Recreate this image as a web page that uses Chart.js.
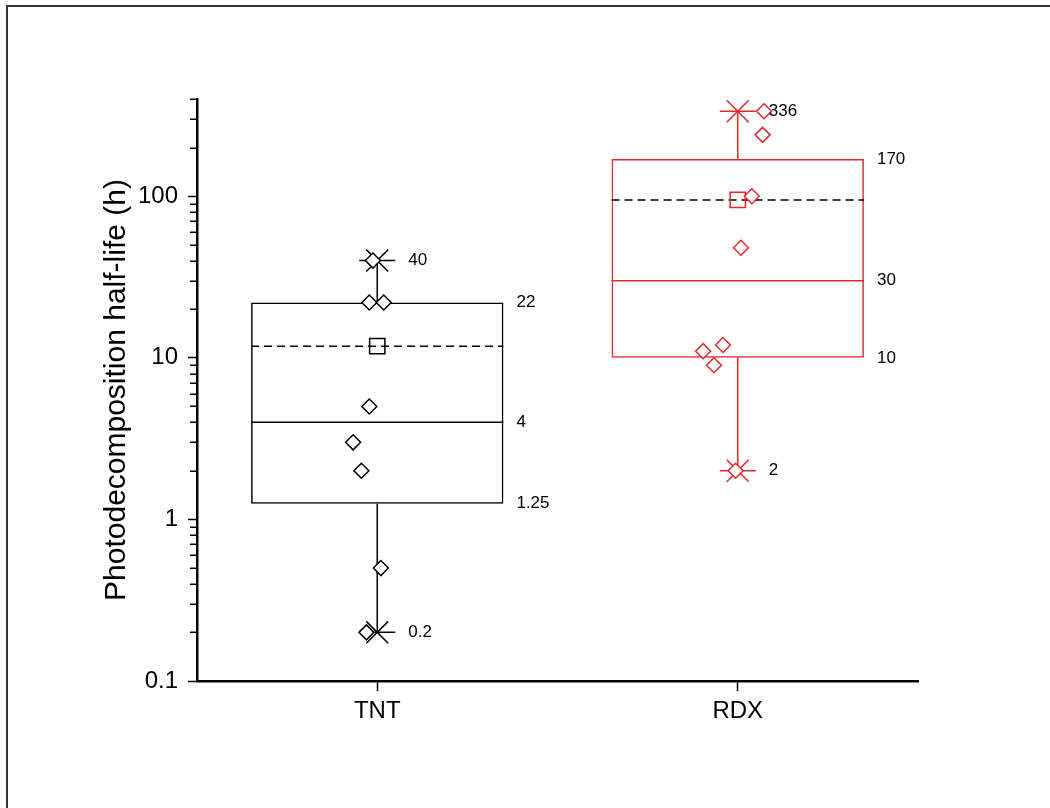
<!DOCTYPE html>
<html>
<head>
<meta charset="utf-8">
<script src="https://cdn.jsdelivr.net/npm/chart.js@4.4.1/dist/chart.umd.min.js"></script>
<style>
  html, body { margin: 0; padding: 0; background: #fff; }
  #wrap { position: relative; width: 1050px; height: 808px; overflow: hidden; }
  #frame { position: absolute; left: 6px; top: 5px; width: 1100px; height: 900px; border-left: 2px solid #333; border-top: 2px solid #333; }
  canvas { position: absolute; left: 0; top: 0; }
</style>
</head>
<body>
<div id="wrap"><div id="frame"></div><canvas id="chart" width="1050" height="808"></canvas></div>
<script>
const categories = ["TNT", "RDX"];
const q1 = [1.25, 10];
const median = [4, 30];
const q3 = [22, 170];
const whiskerMin = [0.2, 2];
const whiskerMax = [40, 336];
const mean = [11.8, 95];

// raw half-lives and their horizontal scatter (category units)
const tntPoints = [40, 22, 22, 5, 3, 2, 0.5, 0.2];
const tntOffsets = [-0.012, -0.022, 0.018, -0.022, -0.067, -0.044, 0.010, -0.030];
const rdxPoints = [336, 240, 100, 48, 12, 11, 9, 2];
const rdxOffsets = [0.073, 0.069, 0.039, 0.009, -0.041, -0.096, -0.066, -0.006];

const majorTicks = [0.1, 1, 10, 100];
const minorTicks = [0.2, 0.3, 0.4, 0.5, 0.6, 0.7, 0.8, 0.9, 2, 3, 4, 5, 6, 7, 8, 9, 20, 30, 40, 50, 60, 70, 80, 90, 200, 300, 400];

const BOX_SPAN = 0.7;
const RED = "#e5262b";
const groupColors = ["#000000", RED];
const groupPoints = [tntPoints, rdxPoints];
const groupOffsets = [tntOffsets, rdxOffsets];
const FONT = '"Liberation Sans", Arial, sans-serif';

Chart.defaults.font.family = FONT;
Chart.defaults.color = "#000";

function pos(i) { return i + 1; }

function lineSet(points, color, extra = {}) {
  return Object.assign({
    type: "line",
    data: points,
    borderColor: color,
    borderWidth: 1.5,
    pointRadius: 0,
    fill: false,
    tension: 0,
    spanGaps: false,
    order: 5
  }, extra);
}

function pointSet(points, color, style, radius, extra = {}) {
  return Object.assign({
    type: "line",
    data: points,
    showLine: false,
    pointStyle: style,
    pointRadius: radius,
    pointBorderWidth: 1.5,
    pointBorderColor: color,
    pointBackgroundColor: "rgba(255,255,255,0)"
  }, extra);
}

const datasets = [{
  type: "bar",
  data: categories.map((_, i) => ({ x: pos(i), y: [q1[i], q3[i]] })),
  backgroundColor: "rgba(0,0,0,0)",
  borderColor: groupColors,
  borderWidth: 1.5,
  borderSkipped: false,
  categoryPercentage: 1,
  barPercentage: BOX_SPAN,
  order: 6
}];

categories.forEach((_, i) => {
  const x = pos(i);
  const c = groupColors[i];
  const half = BOX_SPAN / 2;
  datasets.push(lineSet([
    { x, y: whiskerMax[i] }, { x, y: q3[i] }, { x, y: null }, { x, y: q1[i] }, { x, y: whiskerMin[i] }
  ], c));
  datasets.push(lineSet([{ x: x - half, y: median[i] }, { x: x + half, y: median[i] }], c));
  datasets.push(lineSet([{ x: x - half, y: mean[i] }, { x: x + half, y: mean[i] }], "#000", { borderDash: [8, 5] }));
  const extremes = [{ x, y: whiskerMax[i] }, { x, y: whiskerMin[i] }];
  datasets.push(pointSet(extremes, c, "crossRot", 15.5, { order: 3 }));
  datasets.push(pointSet(extremes, c, "line", 18, { order: 3 }));
  datasets.push(pointSet([{ x, y: mean[i] }], c, "rect", 10.8, { order: 2 }));
  datasets.push(pointSet(groupPoints[i].map((v, k) => ({ x: x + groupOffsets[i][k], y: v })), c, "rectRot", 7.5,
    { order: 1, pointBackgroundColor: "#fff" }));
});

const minorTickPlugin = {
  id: "minorTicks",
  afterDraw(chart) {
    const { ctx, chartArea, scales: { y } } = chart;
    ctx.save();
    ctx.strokeStyle = "#000";
    ctx.lineWidth = 1.5;
    ctx.beginPath();
    minorTicks.forEach((v) => {
      const py = Math.round(y.getPixelForValue(v)) + 0.25;
      ctx.moveTo(chartArea.left, py);
      ctx.lineTo(chartArea.left - 7, py);
    });
    ctx.stroke();
    ctx.restore();
  }
};

const valueLabels = {
  id: "valueLabels",
  afterDatasetsDraw(chart) {
    const { ctx, scales: { x, y } } = chart;
    ctx.save();
    ctx.font = `17px ${FONT}`;
    ctx.fillStyle = "#000";
    ctx.textBaseline = "middle";
    ctx.textAlign = "left";
    categories.forEach((_, i) => {
      const boxRight = x.getPixelForValue(pos(i) + BOX_SPAN / 2) + 13;
      const beside = x.getPixelForValue(pos(i)) + 31;
      [q3[i], median[i], q1[i]].forEach((v) => ctx.fillText(String(v), boxRight, y.getPixelForValue(v)));
      [whiskerMax[i], whiskerMin[i]].forEach((v) => ctx.fillText(String(v), beside, y.getPixelForValue(v)));
    });
    ctx.restore();
  }
};

new Chart(document.getElementById("chart"), {
  type: "bar",
  data: { datasets },
  plugins: [minorTickPlugin, valueLabels],
  options: {
    responsive: false,
    animation: false,
    devicePixelRatio: 1,
    layout: { padding: { left: 99, top: 99, right: 132, bottom: 0 } },
    plugins: { legend: { display: false }, tooltip: { enabled: false } },
    scales: {
      x: {
        type: "linear",
        min: 0.5,
        max: 2.5,
        offset: false,
        afterBuildTicks: (scale) => { scale.ticks = categories.map((_, i) => ({ value: pos(i) })); },
        ticks: { callback: (v) => categories[v - 1] ?? "", font: { size: 24 }, padding: 6, autoSkip: false, maxRotation: 0, color: "#000" },
        grid: { display: true, drawOnChartArea: false, offset: false, tickLength: 10, tickWidth: 1.5, tickColor: "#000" },
        border: { display: true, color: "#000", width: 2.5 },
        afterFit: (scale) => { scale.height = 127; }
      },
      y: {
        type: "logarithmic",
        min: 0.1,
        max: 400,
        afterBuildTicks: (scale) => { scale.ticks = majorTicks.map((v) => ({ value: v })); },
        ticks: { callback: (v) => String(v), font: { size: 24 }, padding: 10, autoSkip: false, color: "#000" },
        grid: { display: true, drawOnChartArea: false, tickLength: 9, tickWidth: 1.5, tickColor: "#000" },
        border: { display: true, color: "#000", width: 2.5 },
        title: { display: true, text: "Photodecomposition half-life (h)", font: { size: 30 }, color: "#000", padding: { top: 0, bottom: 0 } },
        afterFit: (scale) => { scale.width = 98; }
      }
    }
  }
});
</script>
</body>
</html>
